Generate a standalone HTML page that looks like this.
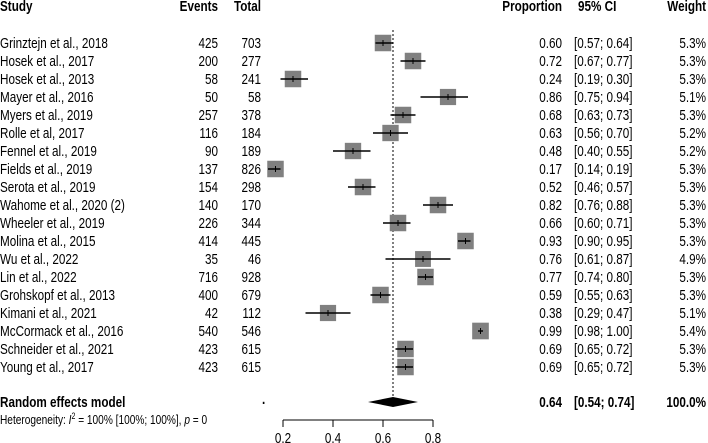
<!DOCTYPE html>
<html><head><meta charset="utf-8"><style>
body{margin:0;background:#fff}
svg{display:block;font-family:"Liberation Sans",Arial,sans-serif}
text{font-size:15px;fill:#000}
.b{font-weight:bold}
</style></head><body>
<svg id="chart" width="708" height="443" viewBox="0 0 708 443" xmlns="http://www.w3.org/2000/svg">
<g>
<text class="b" x="0" y="11">Study</text>
<text class="b" x="218" y="11" text-anchor="end">Events</text>
<text class="b" x="261" y="11" text-anchor="end">Total</text>
<text class="b" x="562" y="11" text-anchor="end">Proportion</text>
<text class="b" x="578" y="11">95% CI</text>
<text class="b" x="706" y="11" text-anchor="end">Weight</text>
</g>
<g id="rows"></g>
<g id="axis"></g>
</svg>
<script>
const studies=["Grinztejn et al., 2018","Hosek et al., 2017","Hosek et al., 2013","Mayer et al., 2016","Myers et al., 2019","Rolle et al, 2017","Fennel et al., 2019","Fields et al., 2019","Serota et al., 2019","Wahome et al., 2020 (2)","Wheeler et al., 2019","Molina et al., 2015","Wu et al., 2022","Lin et al., 2022","Grohskopf et al., 2013","Kimani et al., 2021","McCormack et al., 2016","Schneider et al., 2021","Young et al., 2017"];
const events=[425,200,58,50,257,116,90,137,154,140,226,414,35,716,400,42,540,423,423];
const totals=[703,277,241,58,378,184,189,826,298,170,344,445,46,928,679,112,546,615,615];
const props=[0.60,0.72,0.24,0.86,0.68,0.63,0.48,0.17,0.52,0.82,0.66,0.93,0.76,0.77,0.59,0.38,0.99,0.69,0.69];
const lower=[0.57,0.67,0.19,0.75,0.63,0.56,0.40,0.14,0.46,0.76,0.60,0.90,0.61,0.74,0.55,0.29,0.98,0.65,0.65];
const upper=[0.64,0.77,0.30,0.94,0.73,0.70,0.55,0.19,0.57,0.88,0.71,0.95,0.87,0.80,0.63,0.47,1.00,0.72,0.72];
const weights=[5.3,5.3,5.3,5.1,5.3,5.2,5.2,5.3,5.3,5.3,5.3,5.3,4.9,5.3,5.3,5.1,5.4,5.3,5.3];
const pooled=[0.64,0.54,0.74];
const ticks=[0.2,0.4,0.6,0.8];
const NS="http://www.w3.org/2000/svg";
const xs=v=>233+250*v;
const ys=i=>43+18*i;
const f2=v=>v.toFixed(2);
function mk(tag,attrs,parent,txt){const e=document.createElementNS(NS,tag);for(const k in attrs)e.setAttribute(k,attrs[k]);if(txt!==undefined)e.textContent=txt;parent.appendChild(e);return e;}
const rows=document.getElementById('rows');
const axis=document.getElementById('axis');
const dl=mk('line',{x1:xs(pooled[0]),x2:xs(pooled[0]),y1:30,y2:396,stroke:'#000','stroke-width':1,'stroke-dasharray':'2,2'},rows);


studies.forEach((s,i)=>{
 const y=ys(i);
 const g=mk('g',{},rows);
 
 
 const t1=mk('text',{x:0,y:y+5},g,s);
 
 
 const t2=mk('text',{x:218,y:y+5,'text-anchor':'end'},g,events[i]);
 
 
 const t3=mk('text',{x:261,y:y+5,'text-anchor':'end'},g,totals[i]);
 
 
 const sz=16.5*Math.sqrt(weights[i]/5.3);
 const bx=mk('rect',{x:xs(props[i])-sz/2,y:y-sz/2,width:sz,height:sz,fill:'#808080'},g);
 
 
 const ci=mk('line',{x1:xs(lower[i]),x2:xs(upper[i]),y1:y,y2:y,stroke:'#000','stroke-width':1.5},g);
 
 
 const tk=mk('line',{x1:xs(props[i]),x2:xs(props[i]),y1:y-3,y2:y+3,stroke:'#000','stroke-width':1},g);
 
 
 const t4=mk('text',{x:562,y:y+5,'text-anchor':'end'},g,f2(props[i]));
 
 
 const t5=mk('text',{x:574,y:y+5},g,'['+f2(lower[i])+'; '+f2(upper[i])+']');
 
 
 const t6=mk('text',{x:706,y:y+5,'text-anchor':'end'},g,weights[i].toFixed(1)+'%');
 
 
});
const py=402;
const pr=mk('text',{x:0,y:py+5,class:'b'},rows,'Random effects model');


const dot=mk('text',{x:262,y:py+2,class:'b'},rows,'.');


const dm=mk('polygon',{points:`${xs(pooled[1])},${py} ${xs(pooled[0])},${py-5} ${xs(pooled[2])},${py} ${xs(pooled[0])},${py+5}`,fill:'#000'},rows);


const pp=mk('text',{x:562,y:py+5,'text-anchor':'end',class:'b'},rows,f2(pooled[0]));


const pc=mk('text',{x:574,y:py+5,class:'b'},rows,'['+f2(pooled[1])+'; '+f2(pooled[2])+']');


const pw=mk('text',{x:706,y:py+5,'text-anchor':'end',class:'b'},rows,'100.0%');


const het=mk('text',{x:0,y:424,style:'font-size:13px'},rows);


het.innerHTML='Heterogeneity: <tspan font-style="italic">I</tspan><tspan dy="-5" style="font-size:9px">2</tspan><tspan dy="5"> = 100% [100%; 100%], </tspan><tspan font-style="italic">p</tspan> = 0';
const ax=mk('line',{x1:xs(ticks[0]),x2:xs(ticks[ticks.length-1]),y1:420,y2:420,stroke:'#000','stroke-width':1},axis);


ticks.forEach(t=>{
 const l=mk('line',{x1:xs(t),x2:xs(t),y1:420,y2:427,stroke:'#000','stroke-width':1},axis);
 
 
 const tl=mk('text',{x:xs(t),y:443,'text-anchor':'middle'},axis,t.toFixed(1));
 
 
});
document.querySelectorAll('#chart text').forEach(t=>{
 const x=parseFloat(t.getAttribute('x'))||0, y=parseFloat(t.getAttribute('y'))||0;
 t.removeAttribute('x'); t.removeAttribute('y');
 t.setAttribute('transform',`translate(${x},${y}) scale(0.78,1)`);
});
</script>
</body></html>
